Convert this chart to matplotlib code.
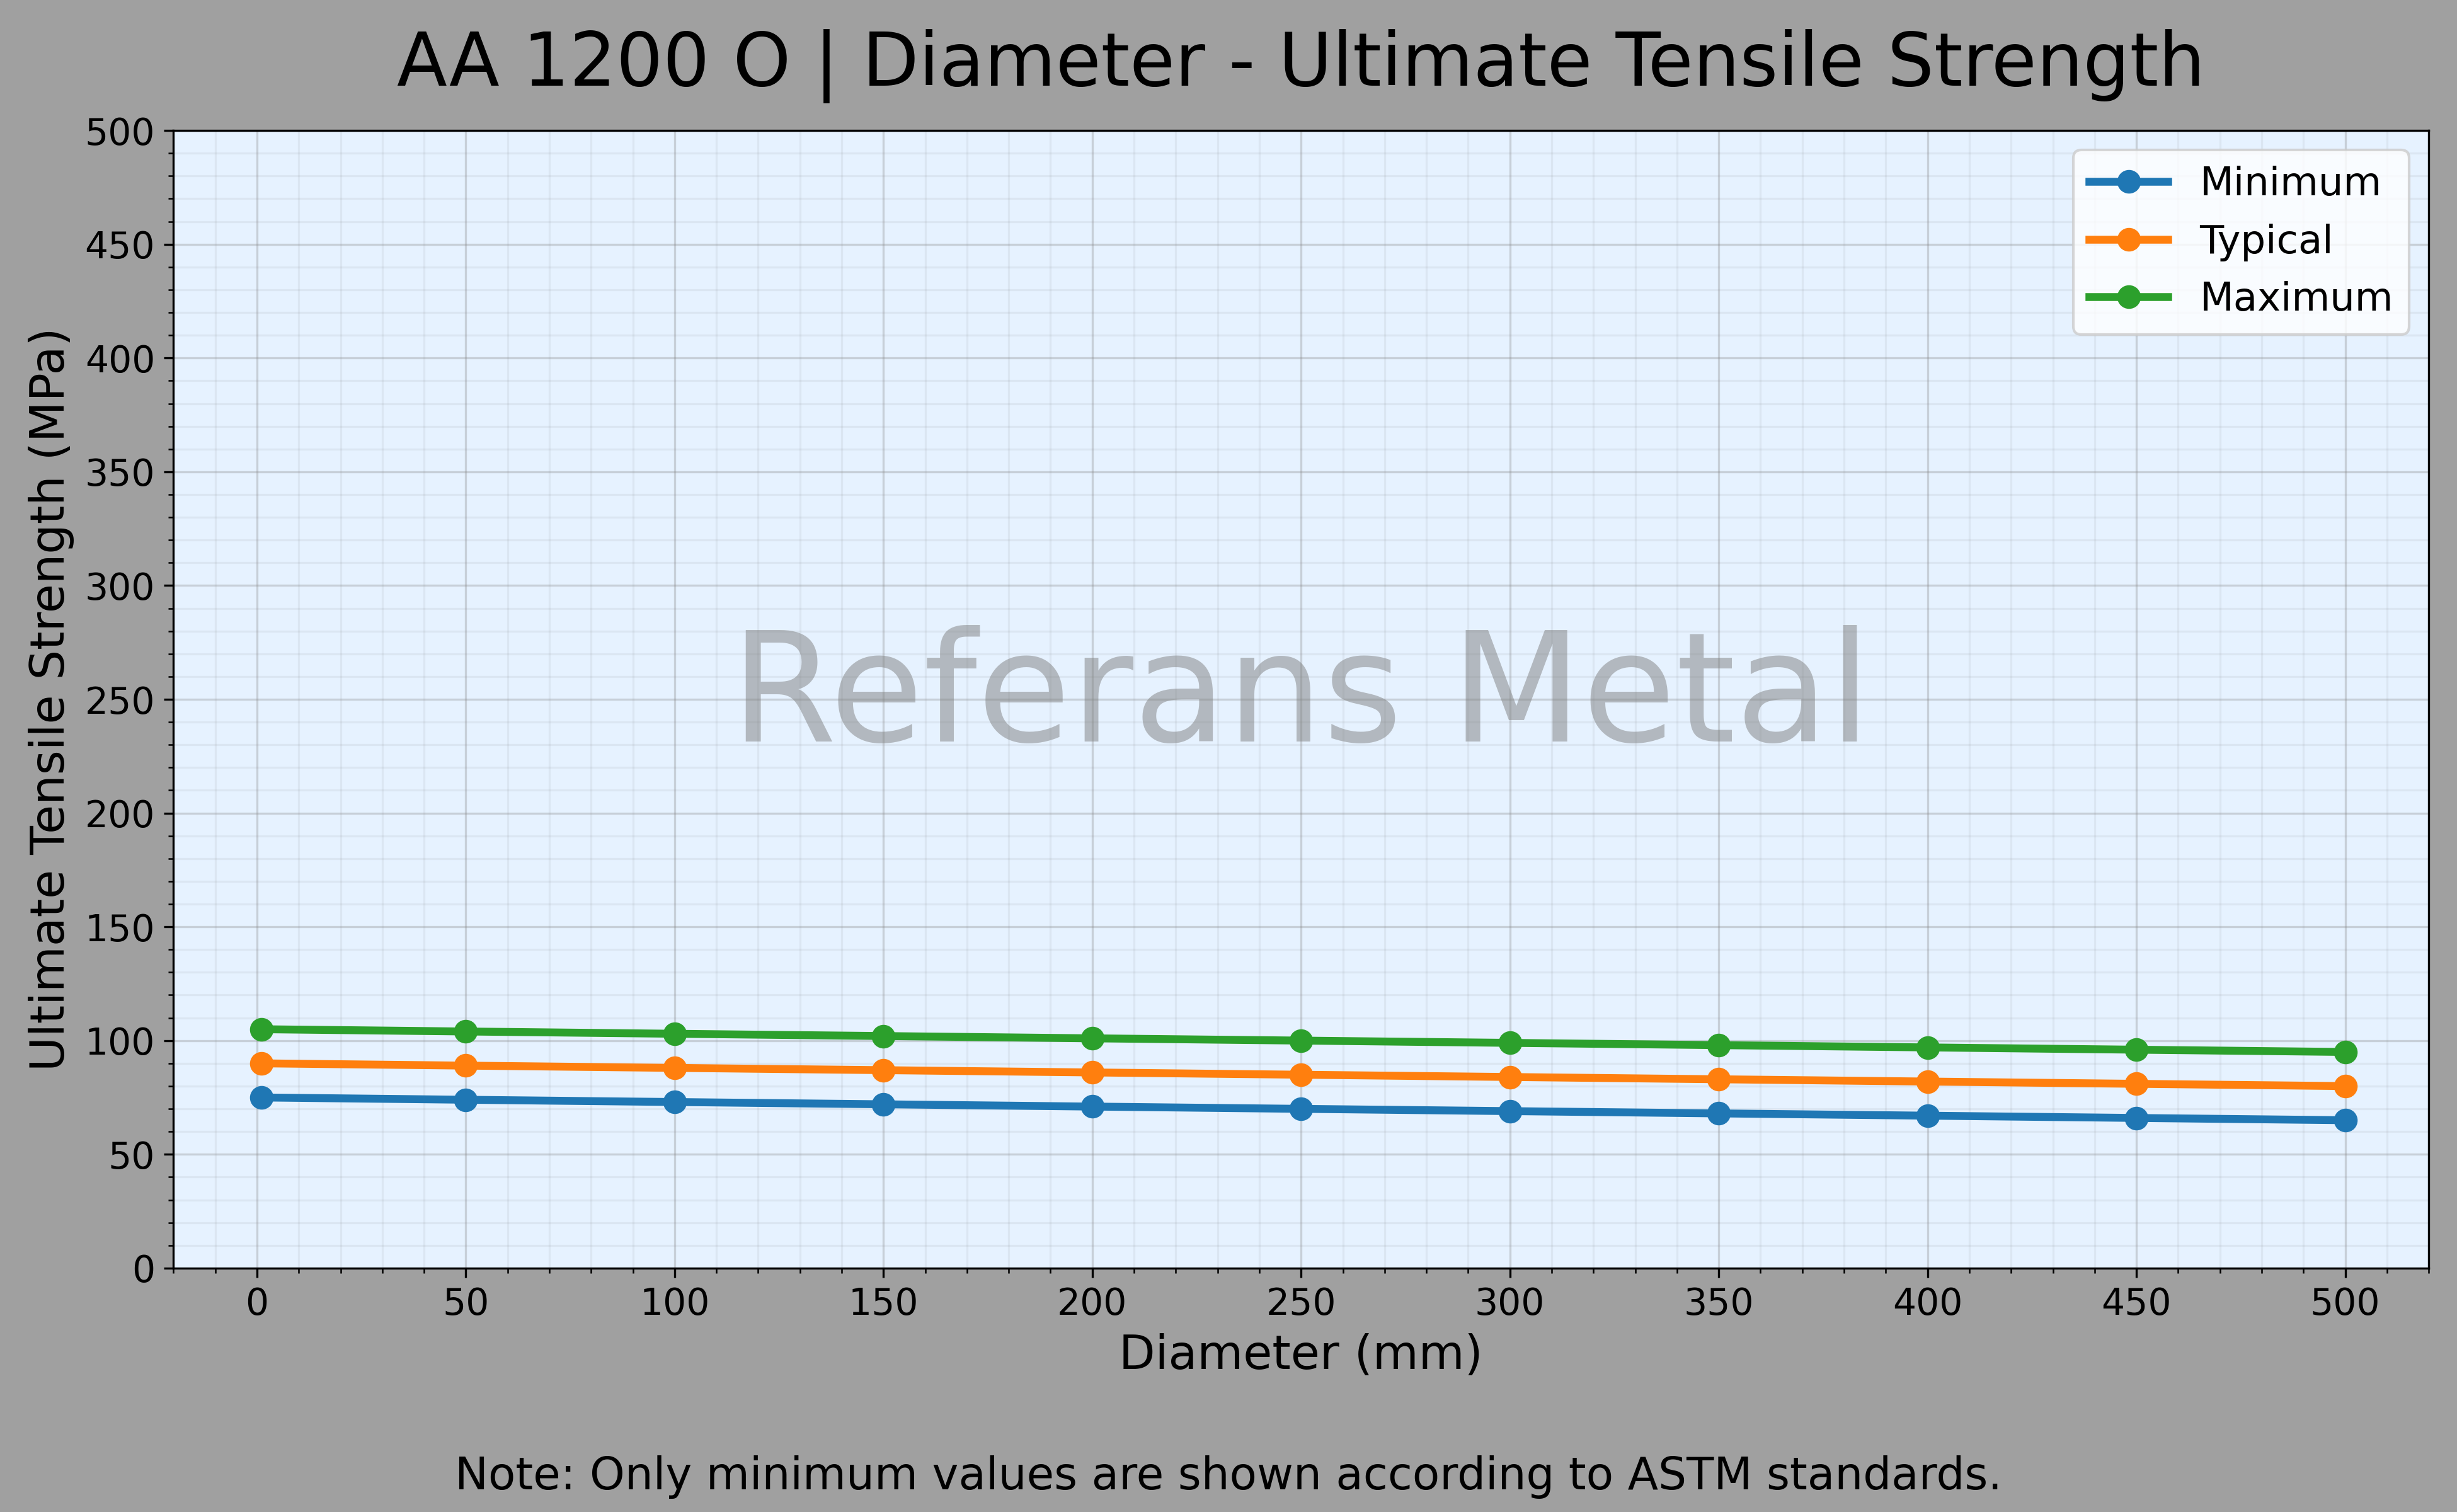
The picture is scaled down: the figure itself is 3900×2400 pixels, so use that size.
import matplotlib
matplotlib.use('Agg')
import matplotlib.pyplot as plt
from matplotlib.ticker import MultipleLocator

# data
diameter = [1, 50, 100, 150, 200, 250, 300, 350, 400, 450, 500]
uts_min = [75, 74, 73, 72, 71, 70, 69, 68, 67, 66, 65]
uts_typ = [90, 89, 88, 87, 86, 85, 84, 83, 82, 81, 80]
uts_max = [105, 104, 103, 102, 101, 100, 99, 98, 97, 96, 95]

fig = plt.figure(figsize=(13, 8), dpi=300, facecolor='#a0a0a0')
ax = fig.add_axes([0.0706, 0.1613, 0.9179, 0.7524])
ax.set_facecolor('#e6f2ff')

ax.plot(diameter, uts_min, marker='o', lw=3, ms=8, label='Minimum')
ax.plot(diameter, uts_typ, marker='o', lw=3, ms=8, label='Typical')
ax.plot(diameter, uts_max, marker='o', lw=3, ms=8, label='Maximum')

ax.set_xlim(-20, 520)
ax.set_ylim(0, 500)
ax.xaxis.set_major_locator(MultipleLocator(50))
ax.xaxis.set_minor_locator(MultipleLocator(10))
ax.yaxis.set_major_locator(MultipleLocator(50))
ax.yaxis.set_minor_locator(MultipleLocator(10))
ax.tick_params(axis='both', which='major', labelsize=14)

ax.set_axisbelow(True)
ax.grid(which='major', color='gray', alpha=0.3, lw=0.8)
ax.grid(which='minor', color='gray', alpha=0.1, lw=0.8)

ax.text(0.5, 0.5, 'Referans Metal', transform=ax.transAxes,
        fontsize=58, color='gray', alpha=0.5, ha='center', va='center',
        zorder=0)

ax.set_title('AA 1200 O | Diameter - Ultimate Tensile Strength',
             fontsize=28, pad=17)
ax.set_xlabel('Diameter (mm)', fontsize=18)
ax.set_ylabel('Ultimate Tensile Strength (MPa)', fontsize=18)
ax.legend(loc='upper right', fontsize=15)

fig.text(0.5, 0.015, 'Note: Only minimum values are shown according to ASTM standards.',
         ha='center', va='baseline', fontsize=17)

fig.savefig('out.png', dpi=300, facecolor=fig.get_facecolor())
